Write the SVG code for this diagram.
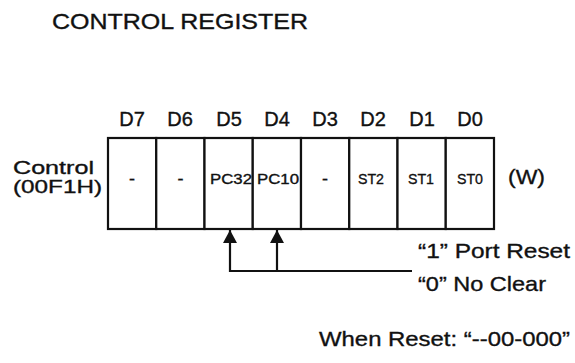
<svg xmlns="http://www.w3.org/2000/svg" width="575" height="363" viewBox="0 0 575 363">
<defs>
<style>
text{font-family:"Liberation Sans",Arial,Helvetica,sans-serif;fill:#111;stroke:#111;stroke-width:0.35}
.cell{fill:#fff;stroke:#111;stroke-width:2.2}
.c{text-anchor:middle}
.wire{fill:none;stroke:#111;stroke-width:2.2}
</style>
<marker id="ah" markerWidth="13" markerHeight="14" refX="13" refY="7" orient="auto" markerUnits="userSpaceOnUse" viewBox="0 0 13 14">
<path d="M0,0 L13,7 L0,14 Z" fill="#111"/>
</marker>
</defs>
<rect width="575" height="363" fill="#fff"/>
<text x="52" y="29" font-size="22" textLength="256" lengthAdjust="spacingAndGlyphs">CONTROL REGISTER</text>
<g id="label">
<text x="13" y="174" font-size="19" textLength="81" lengthAdjust="spacingAndGlyphs">Control</text>
<text x="13" y="193" font-size="19" textLength="89" lengthAdjust="spacingAndGlyphs">(00F1H)</text>
</g>
<g id="bitlabels" font-size="20">
<text class="c" x="132" y="126">D7</text>
<text class="c" x="180" y="126">D6</text>
<text class="c" x="229" y="126">D5</text>
<text class="c" x="277" y="126">D4</text>
<text class="c" x="325" y="126">D3</text>
<text class="c" x="373" y="126">D2</text>
<text class="c" x="422" y="126">D1</text>
<text class="c" x="470" y="126">D0</text>
</g>
<g id="d7"><rect class="cell" x="108" y="138" width="48.25" height="91"/><text class="c" x="132" y="185" font-size="18">-</text></g>
<g id="d6"><rect class="cell" x="156.25" y="138" width="48.25" height="91"/><text class="c" x="180.4" y="185" font-size="18">-</text></g>
<g id="d5"><rect class="cell" x="204.5" y="138" width="48.25" height="91"/><text class="c" x="231" y="184" font-size="14" textLength="42" lengthAdjust="spacingAndGlyphs">PC32</text></g>
<g id="d4"><rect class="cell" x="252.75" y="138" width="48.25" height="91"/><text class="c" x="278" y="184" font-size="14" textLength="42" lengthAdjust="spacingAndGlyphs">PC10</text></g>
<g id="d3"><rect class="cell" x="301" y="138" width="48.25" height="91"/><text class="c" x="325" y="185" font-size="18">-</text></g>
<g id="d2"><rect class="cell" x="349.25" y="138" width="48.25" height="91"/><text class="c" x="371" y="184" font-size="15" textLength="26" lengthAdjust="spacingAndGlyphs">ST2</text></g>
<g id="d1"><rect class="cell" x="397.5" y="138" width="48.25" height="91"/><text class="c" x="421" y="184" font-size="15" textLength="26" lengthAdjust="spacingAndGlyphs">ST1</text></g>
<g id="d0"><rect class="cell" x="445.75" y="138" width="48.25" height="91"/><text class="c" x="470" y="184" font-size="15" textLength="26" lengthAdjust="spacingAndGlyphs">ST0</text></g>
<text x="508" y="184" font-size="21" textLength="37" lengthAdjust="spacingAndGlyphs">(W)</text>
<g id="connectors">
<path class="wire" d="M412,271 H230 V230" marker-end="url(#ah)"/>
<path class="wire" d="M277,271 V230" marker-end="url(#ah)"/>
</g>
<g id="notes" font-size="21">
<text x="418" y="258" textLength="152" lengthAdjust="spacingAndGlyphs">“1” Port Reset</text>
<text x="418" y="291" textLength="128" lengthAdjust="spacingAndGlyphs">“0” No Clear</text>
<text x="319" y="346" textLength="251" lengthAdjust="spacingAndGlyphs">When Reset: “--00-000”</text>
</g>
</svg>
